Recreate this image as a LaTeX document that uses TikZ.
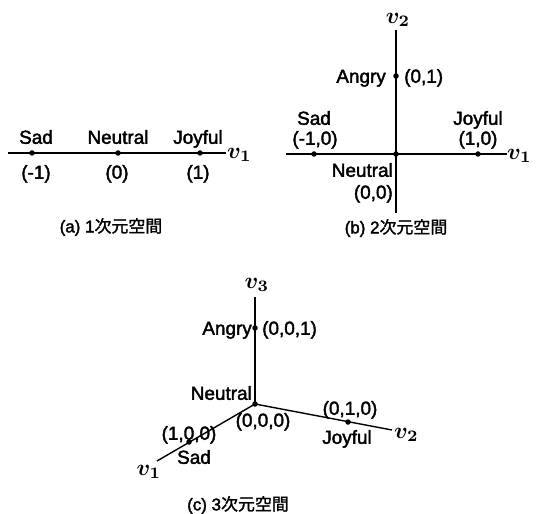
\documentclass[tikz,border=0pt]{standalone}
\usepackage{fontspec}
\setmainfont{Liberation Sans}[FakeBold=2]
\newfontfamily\cjk{Noto Sans CJK JP}[FakeBold=1.5]
\newcommand\axlab[1]{\scalebox{2.3}{\boldmath$v_{#1}$}}
\tikzset{
  lbl/.style={font=\fontsize{19}{19}\selectfont, inner sep=0pt, text height=13.6bp, text depth=0pt},
  captxt/.style={font=\fontsize{17}{17}\selectfont, inner sep=0pt},
  axl/.style={inner sep=0pt},
  dot/.style={circle, fill=black, inner sep=0pt, minimum size=5.5bp},
  axis/.style={line width=1.4bp, black},
}
\begin{document}
\begin{tikzpicture}[x=1bp, y=-1bp]
\useasboundingbox (0,0) rectangle (538,514);
% ---------- (a) ----------
\coordinate (aL) at (8,153);
\coordinate (aR) at (226,153);
\draw[axis] (aL) -- (aR);
\node[dot] (aS) at (32,153) {};
\node[dot] (aN) at (118,153) {};
\node[dot] (aJ) at (200,153) {};
\node[lbl] (aSl) at (36,137) {Sad};
\node[lbl] (aNl) at (118,137) {Neutral};
\node[lbl] (aJl) at (198,137) {Joyful};
\node[lbl] (aSc) at (36,172) {(-1)};
\node[lbl] (aNc) at (117,172) {(0)};
\node[lbl] (aJc) at (198,172) {(1)};
\node[axl, anchor=west] (av1) at (227,155) {\axlab{1}};
\node[captxt] (acap) at (111,227) {(a) 1{\cjk 次元空間}};
% ---------- (b) ----------
\coordinate (bT) at (396,30);
\coordinate (bB) at (396,213);
\coordinate (bL) at (286,154);
\coordinate (bR) at (507,154);
\draw[axis] (bT) -- (bB);
\draw[axis] (bL) -- (bR);
\node[dot] (bA) at (396,76) {};
\node[dot] (bS) at (314,154) {};
\node[dot] (bJ) at (478,154) {};
\node[dot] (bO) at (396,154) {};
\node[axl] (bv2) at (398,20) {\axlab{2}};
\node[axl, anchor=west] (bv1) at (507,156) {\axlab{1}};
\node[lbl, anchor=east] (bAl) at (386,76) {Angry};
\node[lbl, anchor=west] (bAc) at (404,76) {(0,1)};
\node[lbl] (bSl) at (314,118) {Sad};
\node[lbl] (bSc) at (315,138) {(-1,0)};
\node[lbl] (bJl) at (478,118) {Joyful};
\node[lbl] (bJc) at (478,138) {(1,0)};
\node[lbl, anchor=east] (bOl) at (393,170) {Neutral};
\node[lbl, anchor=east] (bOc) at (393,192) {(0,0)};
\node[captxt] (bcap) at (396,228) {(b) 2{\cjk 次元空間}};
% ---------- (c) ----------
\coordinate (cT) at (255,297);
\coordinate (cO) at (255,404);
\coordinate (c1) at (157,461);
\coordinate (c2) at (392,430);
\draw[axis] (cT) -- (cO);
\draw[axis] (cO) -- (c1);
\draw[axis] (cO) -- (c2);
\node[dot] (cA) at (255,328) {};
\node[dot] (cN) at (255,404) {};
\node[dot] (cJ) at (348,422) {};
\node[dot] (cS) at (189,442) {};
\node[axl] (cv3) at (257,285) {\axlab{3}};
\node[axl, anchor=west] (cv2) at (394,435) {\axlab{2}};
\node[axl] (cv1) at (149,472) {\axlab{1}};
\node[lbl, anchor=east] (cAl) at (252,328) {Angry};
\node[lbl, anchor=west] (cAc) at (262,328) {(0,0,1)};
\node[lbl, anchor=east] (cNl) at (252,393) {Neutral};
\node[lbl] (cNc) at (263,420) {(0,0,0)};
\node[lbl] (cJc) at (350,408) {(0,1,0)};
\node[lbl] (cJl) at (347,437) {Joyful};
\node[lbl] (cSc) at (189,433) {(1,0,0)};
\node[lbl] (cSl) at (194,457) {Sad};
\node[captxt] (ccap) at (238,505) {(c) 3{\cjk 次元空間}};
\end{tikzpicture}
\end{document}
